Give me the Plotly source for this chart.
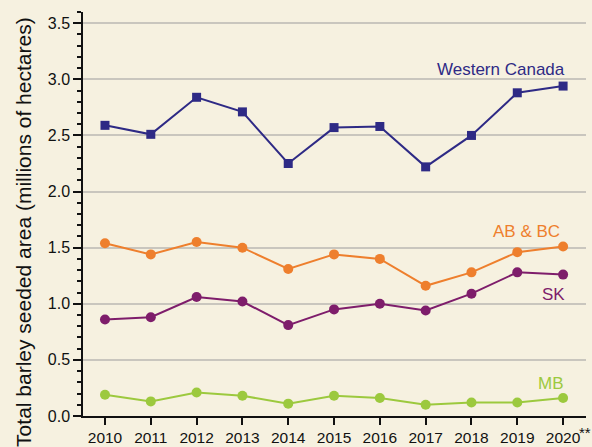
import plotly.graph_objects as go

years = [2010, 2011, 2012, 2013, 2014, 2015, 2016, 2017, 2018, 2019, 2020]
year_labels = ["2010", "2011", "2012", "2013", "2014", "2015", "2016", "2017", "2018", "2019", "2020"]
western_canada = [2.59, 2.51, 2.84, 2.71, 2.25, 2.57, 2.58, 2.22, 2.50, 2.88, 2.94]
ab_bc = [1.54, 1.44, 1.55, 1.50, 1.31, 1.44, 1.40, 1.16, 1.28, 1.46, 1.51]
sk = [0.86, 0.88, 1.06, 1.02, 0.81, 0.95, 1.00, 0.94, 1.09, 1.28, 1.26]
mb = [0.19, 0.13, 0.21, 0.18, 0.11, 0.18, 0.16, 0.10, 0.12, 0.12, 0.16]

series = [
    ("Western Canada", western_canada, "#2E2A85", "square", 2018.64, 3.085),
    ("AB & BC", ab_bc, "#EE7F2D", "circle", 2019.21, 1.643),
    ("SK", sk, "#7E1D6B", "circle", 2019.80, 1.082),
    ("MB", mb, "#9CC93E", "circle", 2019.73, 0.29),
]

FONT = "Liberation Sans, Arial, Helvetica, sans-serif"
fig = go.Figure()
for name, vals, color, sym, lx, ly in series:
    fig.add_trace(go.Scatter(
        x=years, y=vals, mode="lines+markers", name=name,
        line=dict(color=color, width=2),
        marker=dict(symbol=sym, size=10 if sym == "circle" else 9, color=color),
        showlegend=False,
    ))
    fig.add_annotation(x=lx, y=ly, text=name, showarrow=False,
                       font=dict(color=color, size=17, family=FONT),
                       xanchor="center", yanchor="middle")

fig.add_annotation(xref="paper", yref="paper", x=-0.1175, y=0.9926,
                   text="Total barley seeded area (millions of hectares)",
                   textangle=-90, showarrow=False, xanchor="center", yanchor="top",
                   font=dict(size=21, family=FONT, color="#111111"))

# footnote marker after the last year label
fig.add_annotation(xref="x", yref="paper", x=years[-1], xshift=14, y=-0.042,
                   text="**", showarrow=False, xanchor="left", yanchor="middle",
                   font=dict(size=15, family=FONT, color="#111111"))

bg = "#F6F1E0"
fig.update_layout(
    width=592, height=447,
    paper_bgcolor=bg, plot_bgcolor=bg,
    margin=dict(l=83, r=6, t=12, b=31),
    font=dict(family=FONT, size=15.5, color="#111111"),
    xaxis=dict(
        range=[2009.52, 2020.5], tickmode="array", tickvals=years, ticktext=year_labels,
        showgrid=False, zeroline=False, showline=True, linecolor="#111111", linewidth=1.5,
        ticks="outside", ticklen=7, tickcolor="#111111", tickwidth=1.5,
        tickfont=dict(size=15.5), ticklabeloverflow="allow", automargin=False,
    ),
    yaxis=dict(
        range=[0, 3.6], tickmode="array", tickvals=[0, 0.5, 1.0, 1.5, 2.0, 2.5, 3.0, 3.5],
        ticktext=["0.0", "0.5", "1.0", "1.5", "2.0", "2.5", "3.0", "3.5"],
        showgrid=True, gridcolor="#C9C6BE", gridwidth=1.5, zeroline=False,
        showline=True, linecolor="#111111", linewidth=1.5,
        ticks="outside", ticklen=8, tickcolor="#111111", tickwidth=1.5,
        minor=dict(tickmode="linear", tick0=0, dtick=0.1, ticks="outside", ticklen=4,
                   tickcolor="#111111", tickwidth=1.5, showgrid=False),
        tickfont=dict(size=16), automargin=False,
    ),
)

fig.write_html("out.html", config={"displayModeBar": False},
               post_script="document.body.style.margin='0px';document.body.style.background='#F6F1E0';")
